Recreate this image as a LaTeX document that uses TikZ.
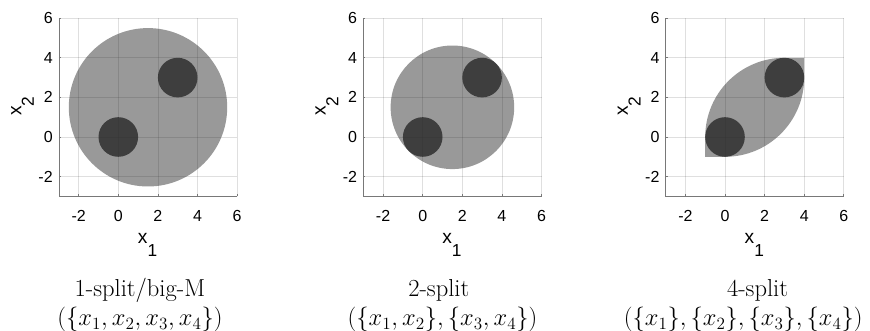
\RequirePackage{fix-cm}
\documentclass[tikz,border=0pt]{standalone}
\usepackage{fontspec}
\usepackage{tikz}
\usetikzlibrary{positioning}
\newfontfamily\axisfont{Liberation Sans}
\definecolor{hullgray}{RGB}{153,153,153}
\definecolor{diskgray}{RGB}{62,62,62}
\definecolor{axisgray}{RGB}{120,120,120}
\definecolor{gridgray}{RGB}{38,38,38}

\begin{document}
\begin{tikzpicture}[
    x=0.75pt, y=0.75pt,
    hull/.style={fill=hullgray, draw=none},
    disk/.style={fill=diskgray, draw=none},
    axisline/.style={draw=axisgray, line width=0.5pt},
    gridline/.style={draw=gridgray, draw opacity=0.15, line width=0.5pt},
    ticklabel/.style={font=\axisfont\fontsize{12}{14}\selectfont, inner sep=0pt},
    axislabel/.style={font=\axisfont\fontsize{14.4}{16}\selectfont, inner sep=0pt, anchor=base},
    captext/.style={font=\fontsize{18.4}{22}\selectfont, inner sep=0pt, anchor=base}
  ]
  \useasboundingbox (0,0) rectangle (870,331);

  % 1-split / big-M hull
  \begin{scope}[shift={(118.3,194)}, x=14.85pt, y=14.85pt]
    \fill[hull] (1.5,1.5) circle (4);
    \fill[disk] (0,0) circle (1);
    \fill[disk] (3,3) circle (1);
  \end{scope}

  % 2-split hull
  \begin{scope}[shift={(422.7,194)}, x=14.85pt, y=14.85pt]
    \fill[hull] (1.5,1.5) circle (3.12);
    \fill[disk] (0,0) circle (1);
    \fill[disk] (3,3) circle (1);
  \end{scope}

  % 4-split hull
  \begin{scope}[shift={(725,194)}, x=14.85pt, y=14.85pt]
    \fill[hull] (-1,-1) -- (0,-1) arc[start angle=-90, end angle=0, radius=4]
      -- (4,4) -- (3,4) arc[start angle=90, end angle=180, radius=4] -- cycle;
    \fill[disk] (0,0) circle (1);
    \fill[disk] (3,3) circle (1);
  \end{scope}

  % Grid, axes and labels
  \foreach \ox/\p in {118.3/1, 422.7/2, 725/3} {
    \begin{scope}[shift={(\ox,194)}, x=14.85pt, y=14.85pt]
      \foreach \t in {-2,0,2,4,6} {
        \draw[gridline] (\t,-3) -- (\t,6);
        \draw[gridline] (-3,\t) -- (6,\t);
      }
      \draw[axisline] (-3,6) -- (-3,-3) -- (6,-3);
      \foreach \t in {-2,0,2,4,6} {
        \draw[axisline] (\t,-3) -- ++(0,0.1);
        \draw[axisline] (-3,\t) -- ++(0.1,0);
        \node[ticklabel, anchor=base] (xt\p\t) at (\t,-4.25) {\t};
        \node[ticklabel, anchor=east] (yt\p\t) at (-3.3,\t) {\t};
      }
      \node[axislabel] (xlab\p) at (1.48,-5.39)
        {x\raisebox{-9.5pt}{\fontsize{13}{14}\selectfont 1}};
      \node[axislabel, rotate=90] (ylab\p) at (-4.9,1.55)
        {x\raisebox{-9.5pt}{\fontsize{13}{14}\selectfont 2}};
    \end{scope}
  }

  % Captions
  \node[captext] (cap1) at (139.9,34) {1-split/big-M};
  \node[captext] (set1) at (140,5) {$(\{x_1,x_2,x_3,x_4\})$};
  \node[captext] (cap2) at (438.8,34) {2-split};
  \node[captext] (set2) at (442.5,5) {$(\{x_1,x_2\},\{x_3,x_4\})$};
  \node[captext] (cap3) at (757.5,34) {4-split};
  \node[captext] (set3) at (743.3,5) {$(\{x_1\},\{x_2\},\{x_3\},\{x_4\})$};
\end{tikzpicture}
\end{document}
